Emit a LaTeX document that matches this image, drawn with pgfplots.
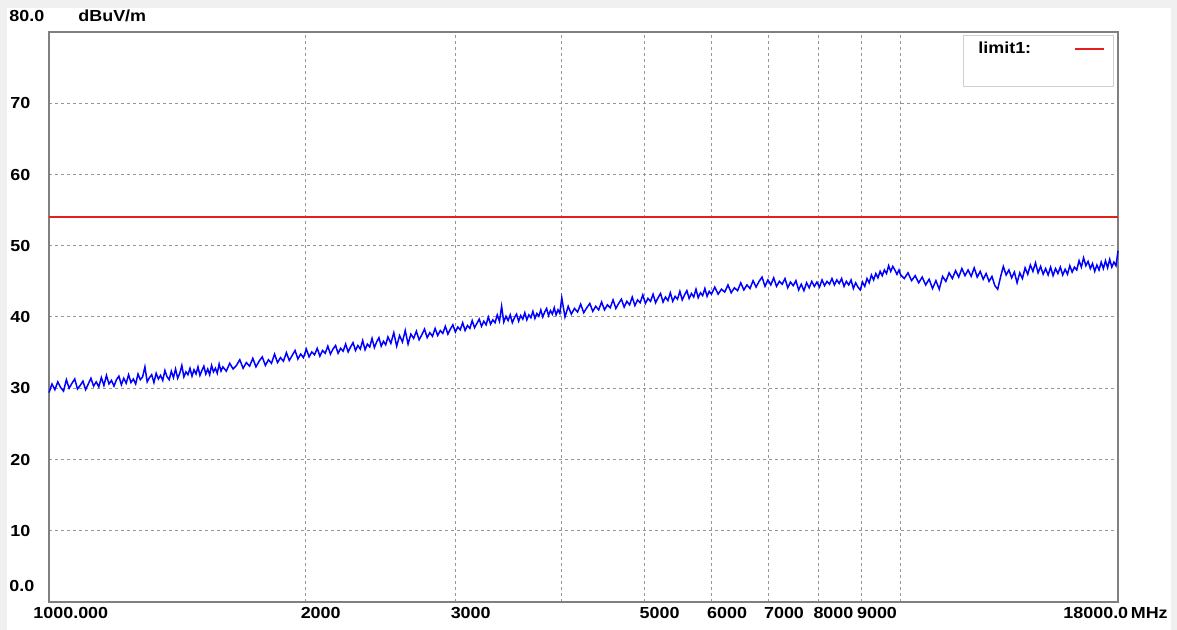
\documentclass[border=0pt]{standalone}
\usepackage{fontspec}
\setmainfont{Liberation Sans}[FakeStretch=1.12]
\usepackage{pgfplots}
\pgfplotsset{compat=1.18}
\definecolor{bggray}{RGB}{240,240,240}
\definecolor{framec}{RGB}{128,128,128}
\definecolor{gridc}{RGB}{150,150,150}
\definecolor{legbox}{RGB}{212,208,200}
\definecolor{trace}{RGB}{0,0,255}
\definecolor{limitred}{RGB}{230,30,30}
\newcommand\lbl{\fontsize{8}{9.6}\selectfont\bfseries}

\begin{document}
\begin{tikzpicture}
% 1 px of the reference = 0.5pt
\fill[bggray] (-24.5pt,-14pt) rectangle (564pt,301pt);
\fill[white] (-21pt,-14pt) rectangle (561pt,297pt);
\begin{axis}[
  at={(0,0)}, anchor=south west,
  scale only axis, width=534.5pt, height=285pt,
  xmode=log, xmin=1000, xmax=18000, ymin=0, ymax=80,
  xtick={2000,3000,4000,5000,6000,7000,8000,9000,10000},
  xticklabels={2000,3000,,5000,6000,7000,8000,9000,},
  ytick={10,20,...,70},
  yticklabels={10,20,30,40,50,60,70},
  xmajorgrids, ymajorgrids,
  grid style={gridc, line width=0.5pt, dash pattern=on 1.5pt off 1.5pt},
  major tick length=0pt,
  axis line style={framec, line width=1pt},
  tick label style={font=\lbl, inner sep=0pt},
  xticklabel style={anchor=north west, xshift=-2.5pt, yshift=-2.5pt},
  yticklabel style={anchor=west, xshift=-19.5pt},
  clip=false,
  legend plot pos=right,
  legend style={at={(0.869,0.970)}, anchor=west, draw=none, fill=none,
    inner sep=0pt, font=\lbl, nodes={inner sep=0pt}},
  legend image code/.code={\draw[#1] (0pt,0pt) -- (14.5pt,0pt);},
]
% legend frame
\filldraw[fill=white, draw=legbox, line width=0.5pt]
  (rel axis cs:0.855,0.9035) rectangle (rel axis cs:0.9953,0.9947);

\addplot[color=trace, line width=0.75pt, forget plot] coordinates {
(1000,29.4) (1008,30.6) (1016,29.8) (1024,30.9) (1032,30.1) (1040,29.6)
(1048,31.2) (1056,30.0) (1064,30.7) (1072,31.3) (1080,29.9) (1088,30.4)
(1096,31.0) (1104,29.8) (1112,30.6) (1120,31.4) (1128,30.3) (1136,30.9)
(1144,30.2) (1152,31.5) (1160,30.4) (1168,31.8) (1176,30.6) (1184,31.1)
(1192,30.3) (1200,31.2) (1208,31.7) (1216,30.5) (1224,31.4) (1232,30.7)
(1240,31.9) (1248,30.8) (1256,31.3) (1264,30.6) (1272,32.0) (1280,31.2)
(1288,31.6) (1296,33.0) (1304,30.9) (1312,31.5) (1320,31.9) (1328,30.8)
(1336,32.1) (1344,31.3) (1352,31.8) (1360,31.1) (1368,32.5) (1376,31.6)
(1384,31.2) (1392,32.4) (1400,31.5) (1408,32.7) (1416,31.4) (1424,32.1)
(1432,33.2) (1440,31.6) (1448,32.3) (1456,31.9) (1464,32.8) (1472,31.7)
(1480,32.6) (1488,32.0) (1496,33.0) (1504,31.8) (1512,32.5) (1520,33.1)
(1528,32.0) (1536,32.7) (1544,31.9) (1552,33.2) (1560,32.3) (1568,32.8)
(1576,32.1) (1584,33.4) (1592,32.4) (1600,33.0)
(1615,32.4) (1630,33.5) (1645,32.7) (1660,33.2) (1675,34.0) (1690,32.8)
(1705,33.6) (1720,33.1) (1735,34.2) (1750,33.0) (1765,33.8) (1780,34.4)
(1795,33.2) (1810,34.0) (1825,33.5) (1840,34.8) (1855,33.6) (1870,34.3)
(1885,33.8) (1900,35.0) (1915,33.9) (1930,34.6) (1945,35.3) (1960,34.1)
(1975,34.8) (1990,34.3) (2005,35.5) (2020,34.4) (2035,35.1) (2050,34.7)
(2065,35.6) (2080,34.5) (2095,35.3) (2110,34.9) (2125,35.9) (2140,34.8)
(2155,35.5) (2170,36.0) (2185,34.9) (2200,35.6) (2215,35.2) (2230,36.2)
(2245,35.1) (2260,35.8) (2275,36.4) (2290,35.3) (2305,36.0) (2320,35.5)
(2335,36.7) (2350,35.4) (2365,36.2) (2380,35.8) (2395,37.0) (2410,35.7)
(2425,36.5) (2440,37.1) (2455,35.9) (2470,36.6) (2485,36.1) (2500,37.2)
(2520,36.3) (2540,37.8) (2560,35.9) (2580,37.4) (2600,36.5) (2620,38.1)
(2640,36.2) (2660,37.6) (2680,37.0) (2700,38.0) (2720,36.8) (2740,37.5)
(2760,38.3) (2780,37.1) (2800,37.8) (2820,37.3) (2840,38.4) (2860,37.4)
(2880,38.1) (2900,37.7) (2920,38.7) (2940,37.6) (2960,38.3) (2980,38.9)
(3000,37.9) (3020,38.6) (3040,38.2) (3060,39.2) (3080,38.1) (3100,38.8)
(3120,38.4) (3140,39.5) (3160,38.5) (3180,39.1) (3200,39.7) (3220,38.7)
(3240,39.4) (3260,38.9) (3280,40.0) (3300,39.0) (3320,39.6) (3340,39.2)
(3360,40.3) (3380,39.4) (3400,41.5) (3420,39.3) (3440,40.1) (3460,39.5)
(3480,40.3) (3500,39.2) (3520,39.9) (3540,40.4) (3560,39.4) (3580,40.2)
(3600,39.7) (3620,40.6) (3640,39.6) (3660,40.3) (3680,39.9) (3700,40.8)
(3720,39.8) (3740,40.5) (3760,40.1) (3780,41.0) (3800,40.0) (3820,40.7)
(3840,41.2) (3860,40.2) (3880,40.9) (3900,40.4) (3920,41.3) (3940,40.3)
(3960,41.0) (3980,40.5) (4000,42.7)
(4035,40.0) (4070,41.5) (4105,40.4) (4140,41.2) (4175,40.7) (4210,41.8)
(4245,40.6) (4280,41.3) (4315,41.9) (4350,40.8) (4385,41.5) (4420,41.0)
(4455,42.1) (4490,41.0) (4525,41.7) (4560,41.3) (4595,42.4) (4630,41.2)
(4665,41.9) (4700,42.5) (4735,41.4) (4770,42.2) (4805,41.7) (4840,42.8)
(4875,41.6) (4910,42.4) (4945,42.0) (4980,43.1) (5015,41.9) (5050,42.6)
(5085,42.2) (5120,43.2) (5155,42.0) (5190,42.7) (5225,43.3) (5260,42.1)
(5295,42.8) (5330,42.3) (5365,43.4) (5400,42.2) (5435,42.9) (5470,42.5)
(5505,43.6) (5540,42.4) (5575,43.1) (5610,43.7) (5645,42.6) (5680,43.3)
(5715,42.8) (5750,43.9) (5785,42.7) (5820,43.4) (5855,43.0) (5890,44.0)
(5925,42.9) (5960,43.6) (5995,43.2)
(6050,44.2) (6105,43.2) (6160,43.9) (6215,43.5) (6270,44.5) (6325,43.4)
(6380,44.1) (6435,43.7) (6490,44.8) (6545,43.8) (6600,44.5) (6655,44.0)
(6710,45.1) (6765,44.2) (6820,45.0) (6875,45.6) (6930,44.3) (6985,45.2)
(7040,44.5) (7095,45.5) (7150,44.3) (7205,45.0) (7260,44.6) (7315,45.4)
(7370,44.1) (7425,44.9) (7480,44.4) (7535,45.1) (7590,43.8) (7645,44.6)
(7700,43.7) (7755,44.8) (7810,44.1) (7865,45.0) (7920,44.3) (7975,44.9)
(8030,44.2) (8085,45.2) (8140,44.4) (8195,45.0) (8250,44.6) (8305,45.4)
(8360,44.5) (8415,45.2) (8470,44.7) (8525,45.4) (8580,44.3) (8635,45.0)
(8690,44.5) (8745,45.2) (8800,44.0) (8855,44.8) (8910,44.2) (8965,43.8)
(9020,44.9) (9075,44.3) (9130,45.4) (9185,44.8) (9240,45.9) (9295,45.2)
(9350,46.1) (9405,45.5) (9460,46.4) (9515,45.8) (9570,46.6) (9625,46.1)
(9680,47.2) (9735,46.4) (9790,47.1) (9845,46.6) (9900,46.0) (9955,46.6)
(10000,45.9)
(10100,45.4) (10200,46.2) (10300,45.1) (10400,45.8) (10500,44.8) (10600,45.6)
(10700,44.5) (10800,45.3) (10900,44.0) (11000,45.1) (11100,43.9) (11200,45.7)
(11300,45.0) (11400,46.2) (11500,45.4) (11600,46.5) (11700,45.6) (11800,46.8)
(11900,45.8) (12000,46.6) (12100,45.7) (12200,46.9) (12300,45.6) (12400,46.4)
(12500,45.3) (12600,46.1) (12700,45.0) (12800,45.7) (12900,44.4) (13000,43.9)
(13100,45.6) (13200,47.1) (13300,45.9) (13400,46.6) (13500,45.5) (13600,46.3)
(13700,44.8) (13800,46.2) (13900,45.4) (14000,46.9) (14100,46.0) (14200,47.3)
(14300,46.4) (14400,47.6) (14500,46.2) (14600,47.1) (14700,46.0) (14800,46.8)
(14900,45.9) (15000,47.0) (15100,45.8) (15200,46.8) (15300,46.1) (15400,47.0)
(15500,45.9) (15600,46.7) (15700,46.0) (15800,47.2) (15900,46.3) (16000,47.0)
(16100,46.6) (16200,47.9) (16300,47.0) (16400,48.3) (16500,47.2) (16600,47.8)
(16700,46.8) (16800,47.5) (16900,46.4) (17000,47.3) (17100,46.6) (17200,47.7)
(17300,46.8) (17400,47.9) (17500,46.9) (17600,48.1) (17700,47.0) (17800,47.7)
(17900,47.2) (18000,49.3)
};

\addplot[color=limitred, solid, line width=0.75pt] coordinates {
(1000,54) (18000,54)
};
\addlegendentry{\makebox[48pt][l]{limit1:}}

\node[font=\lbl, anchor=west, inner sep=0pt, xshift=-20pt, yshift=8pt] at (rel axis cs:0,1) {80.0};
\node[font=\lbl, anchor=west, inner sep=0pt, xshift=14.5pt, yshift=8pt] at (rel axis cs:0,1) {dBuV/m};
\node[font=\lbl, anchor=west, inner sep=0pt, xshift=-20pt, yshift=8pt] at (rel axis cs:0,0) {0.0};
\node[font=\lbl, anchor=north west, inner sep=0pt, xshift=-8pt, yshift=-2.5pt] at (rel axis cs:0,0) {1000.000};
\node[font=\lbl, anchor=north west, inner sep=0pt, xshift=-27.5pt, yshift=-2.5pt] at (rel axis cs:1,0) {18000.0\,MHz};
\end{axis}
\end{tikzpicture}
\end{document}
